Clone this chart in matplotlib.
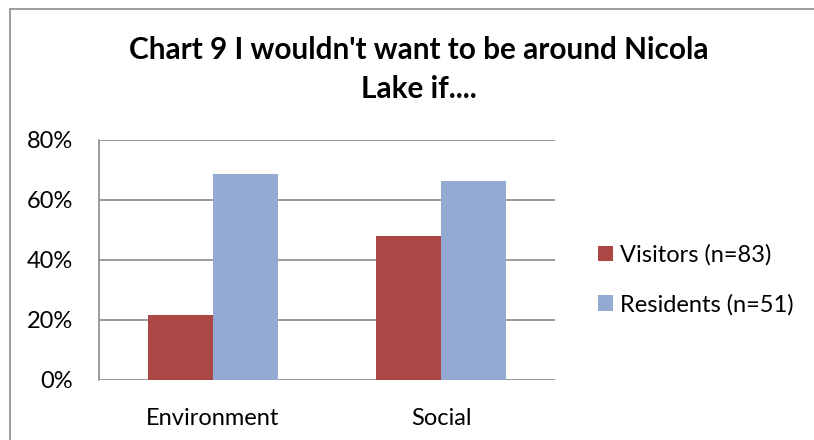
import numpy as np
import matplotlib.pyplot as plt
from matplotlib.patches import Rectangle

categories = ['Environment', 'Social']
visitors = [21.6, 48.0]
residents = [68.6, 66.4]
series_labels = ['Visitors (n=83)', 'Residents (n=51)']
yticks = [0, 20, 40, 60, 80]
title_lines = ["Chart 9 I wouldn't want to be around Nicola", "Lake if...."]

red = '#AB4745'
blue = '#95AAD2'
grid_c = '#8A8A8A'

plt.rcParams['font.family'] = ['Lato', 'DejaVu Sans']

fig = plt.figure(figsize=(8.14, 4.4), dpi=100)
ax = fig.add_axes([0.1213, 0.1364, 0.5609, 0.5455])

x = np.arange(len(categories))
w = 0.285
ax.bar(x - w / 2, visitors, w, color=red, label=series_labels[0], zorder=3)
ax.bar(x + w / 2, residents, w, color=blue, label=series_labels[1], zorder=3)

ax.set_xlim(-0.5, 1.5)
ax.set_ylim(0, 80)
ax.set_yticks(yticks)
ax.set_yticklabels([f'{t}%' for t in yticks], fontsize=17)
ax.set_xticks(x)
ax.set_xticklabels(categories, fontsize=17)
ax.tick_params(axis='y', length=0, pad=18.5)
ax.tick_params(axis='x', length=0, pad=20)
ax.grid(axis='y', color=grid_c, linewidth=1.2, zorder=0)
for s in ['top', 'right', 'bottom']:
    ax.spines[s].set_visible(False)
ax.spines['left'].set_color(grid_c)
ax.spines['left'].set_linewidth(1.2)

# title, two centred lines
fig.text(0.514, 1 - 59 / 440, title_lines[0], ha='center', va='baseline',
         fontsize=21.4, fontweight='bold')
fig.text(0.514, 1 - 97.7 / 440, title_lines[1], ha='center', va='baseline',
         fontsize=21.4, fontweight='bold')

ax.legend(loc='center left', bbox_to_anchor=(0.7343, 0.364), bbox_transform=fig.transFigure,
          frameon=False, fontsize=17, handlelength=0.64, handleheight=0.64,
          handletextpad=0.3, labelspacing=1.18, borderpad=0, borderaxespad=0)

fig.patches.append(Rectangle((10 / 814, -0.1), 2, 1 - 9 / 440 + 0.1,
                             transform=fig.transFigure, fill=False,
                             edgecolor='#8C8C8C', linewidth=1.2))

fig.savefig('out.png', dpi=100)
